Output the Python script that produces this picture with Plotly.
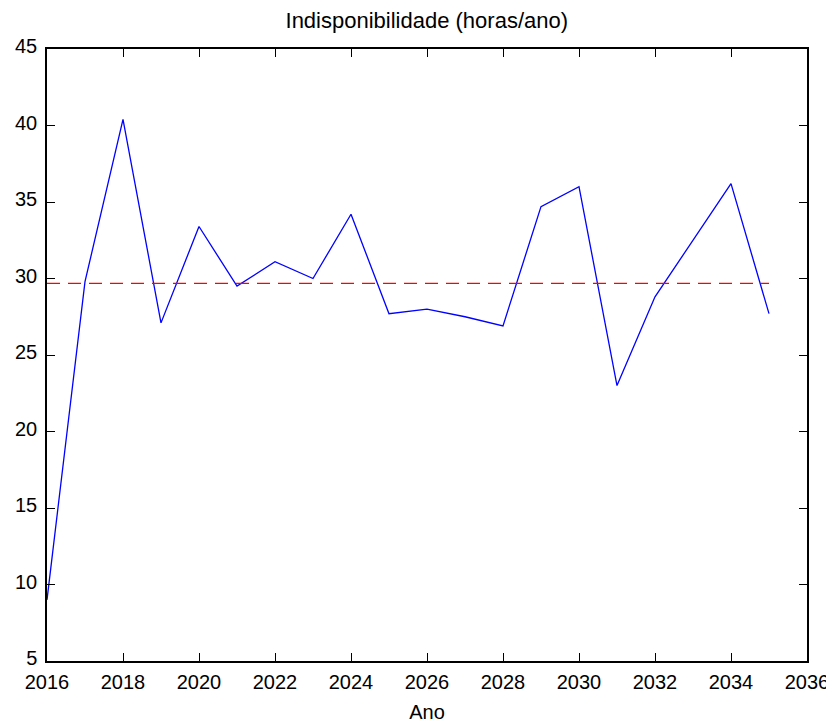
import plotly.graph_objects as go

years = list(range(2016, 2036))
indisponibilidade = [9.0, 29.8, 40.4, 27.1, 33.4, 29.5, 31.1, 30.0, 34.2, 27.7,
                     28.0, 27.5, 26.9, 34.7, 36.0, 23.0, 28.8, 32.5, 36.2, 27.7]
media = sum(indisponibilidade) / len(indisponibilidade)
x_ticks = list(range(2016, 2037, 2))
y_ticks = list(range(5, 46, 5))

title_text = "Indisponibilidade (horas/ano)"
x_label = "Ano"

fig = go.Figure()
fig.add_trace(go.Scatter(x=years, y=indisponibilidade, mode="lines",
                         line=dict(color="#0000ff", width=1.3), showlegend=False))
fig.add_trace(go.Scatter(x=[years[0], years[-1]], y=[media, media], mode="lines",
                         line=dict(color="#ff0000", width=1.3, dash="13px,8px"),
                         showlegend=False))

font_family = "Liberation Sans, Arial, sans-serif"
axis_common = dict(showline=True, linecolor="black", linewidth=1.5, mirror="allticks",
                   ticks="inside", ticklen=8, tickwidth=1.3, tickcolor="black",
                   showgrid=False, zeroline=False, automargin=False,
                   tickfont=dict(family=font_family, size=20, color="black"))

# page body has an 8px margin; figure sized so the page matches 834x726
fig.update_layout(
    width=826, height=718,
    margin=dict(l=39, r=27, t=41, b=65),
    paper_bgcolor="white", plot_bgcolor="white",
    title=dict(text=title_text, x=0.507, xanchor="center", y=0.983, yanchor="middle",
               font=dict(family=font_family, size=22, color="black")),
    xaxis=dict(range=[2016, 2036], tickvals=x_ticks, ticktext=[str(v) for v in x_ticks],
               ticklabelstandoff=2,
               title=dict(text=x_label, standoff=13,
                          font=dict(family=font_family, size=20, color="black")),
               **axis_common),
    yaxis=dict(range=[5, 45], tickvals=y_ticks, ticktext=[str(v) for v in y_ticks],
               ticklabelstandoff=4, ticklabelshift=-3,
               **axis_common),
)

fig.write_html("out.html")
